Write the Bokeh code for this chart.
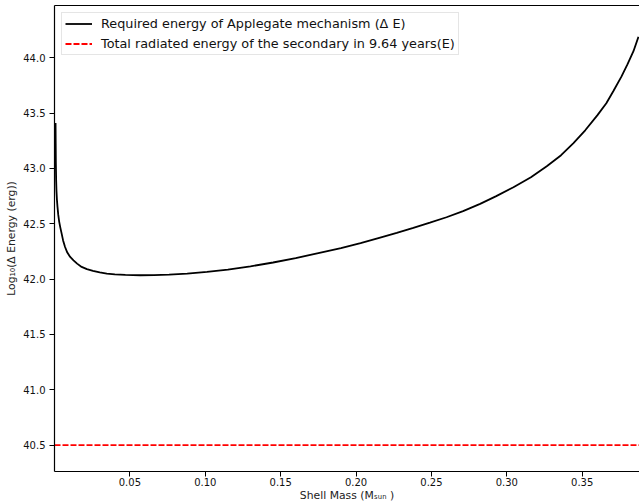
from bokeh.plotting import figure
from bokeh.models import Range1d, FixedTicker, PrintfTickFormatter, LinearAxis, Legend
from bokeh.embed import file_html
from bokeh.resources import INLINE

# Data
shell_mass = [0.0007, 0.0008, 0.0009, 0.0011, 0.0013, 0.0016, 0.0020, 0.0025, 0.0031, 0.0038,
              0.0046, 0.0057, 0.0070, 0.0085, 0.0104, 0.0126, 0.0150, 0.0180, 0.0215, 0.0255,
              0.030, 0.0347, 0.040, 0.047, 0.057, 0.066, 0.076, 0.088, 0.1011, 0.115,
              0.130, 0.145, 0.160, 0.175, 0.190, 0.203, 0.216, 0.227, 0.238, 0.249,
              0.260, 0.271, 0.2823, 0.293, 0.3044, 0.316, 0.3265, 0.336, 0.3442, 0.352,
              0.360, 0.366, 0.3707, 0.376, 0.380, 0.384, 0.3873]
log_delta_e = [43.41, 43.22, 43.05, 42.89, 42.80, 42.72, 42.65, 42.58, 42.52, 42.47,
               42.42, 42.35, 42.29, 42.24, 42.20, 42.17, 42.14, 42.11, 42.09, 42.075,
               42.06, 42.05, 42.043, 42.038, 42.035, 42.036, 42.04, 42.05, 42.065, 42.085,
               42.115, 42.15, 42.19, 42.235, 42.28, 42.325, 42.375, 42.418, 42.463, 42.51,
               42.559, 42.615, 42.68, 42.75, 42.83, 42.92, 43.02, 43.12, 43.23, 43.345,
               43.48, 43.59, 43.70, 43.83, 43.94, 44.06, 44.19]
radiated_x = [0.0, 0.388]
radiated_e = [40.5, 40.5]

x_ticks = [0.05, 0.10, 0.15, 0.20, 0.25, 0.30, 0.35]
y_ticks = [40.5, 41.0, 41.5, 42.0, 42.5, 43.0, 43.5, 44.0]

FONT = "DejaVu Sans"

p = figure(width=639, height=504, output_backend="svg", toolbar_location=None,
           x_range=Range1d(0.0, 0.388), y_range=Range1d(40.261, 44.473),
           min_border_left=54, min_border_right=0, min_border_top=5, min_border_bottom=33)
p.outline_line_color = None
p.grid.visible = False
p.background_fill_color = "white"
p.border_fill_color = "white"

r1 = p.line(shell_mass, log_delta_e, line_color="black", line_width=1.8)
r2 = p.line(radiated_x, radiated_e, line_color="red", line_width=1.8, line_dash="6 2")

for ax in (p.xaxis[0], p.yaxis[0]):
    ax.major_tick_in = 0
    ax.major_tick_out = 5
    ax.minor_tick_line_color = None
    ax.axis_line_color = "black"
    ax.axis_line_width = 1.2
    ax.major_tick_line_color = "black"
    ax.major_label_text_font = FONT
    ax.major_label_text_font_size = "10px"
    ax.major_label_text_color = "#111111"
    ax.axis_label_text_font = FONT
    ax.axis_label_text_font_size = "10.8px"
    ax.axis_label_text_font_style = "normal"
    ax.axis_label_text_color = "#222222"

p.xaxis[0].ticker = FixedTicker(ticks=x_ticks)
p.xaxis[0].formatter = PrintfTickFormatter(format="%.2f")
p.xaxis[0].axis_label = "Shell Mass (Mₛᵤₙ )"
p.xaxis[0].major_label_standoff = 1
p.xaxis[0].axis_label_standoff = 0

p.yaxis[0].ticker = FixedTicker(ticks=y_ticks)
p.yaxis[0].formatter = PrintfTickFormatter(format="%.1f")
p.yaxis[0].axis_label = "Log₁₀(Δ Energy (erg))"
p.yaxis[0].major_label_standoff = 4
p.yaxis[0].axis_label_standoff = 2

top = LinearAxis(ticker=FixedTicker(ticks=[]), major_tick_out=0, major_tick_in=0,
                 minor_tick_out=0, minor_tick_in=0, major_label_text_font_size="0px",
                 axis_line_color="black", axis_line_width=1.2)
p.add_layout(top, "above")

legend = Legend(items=[("Required energy of Applegate mechanism (Δ E)", [r1]),
                       ("Total radiated energy of the secondary in 9.64 years(E)", [r2])],
                location="top_left")
legend.label_text_font = FONT
legend.label_text_font_size = "12.8px"
legend.label_text_color = "#111111"
legend.glyph_width = 27
legend.glyph_height = 15
legend.label_height = 15
legend.spacing = 5
legend.padding = 3
legend.margin = 7
legend.label_standoff = 9
legend.border_line_color = "#cccccc"
legend.border_line_width = 1
legend.background_fill_alpha = 0.8
p.add_layout(legend)

open("out.html", "w").write(file_html(p, INLINE))
